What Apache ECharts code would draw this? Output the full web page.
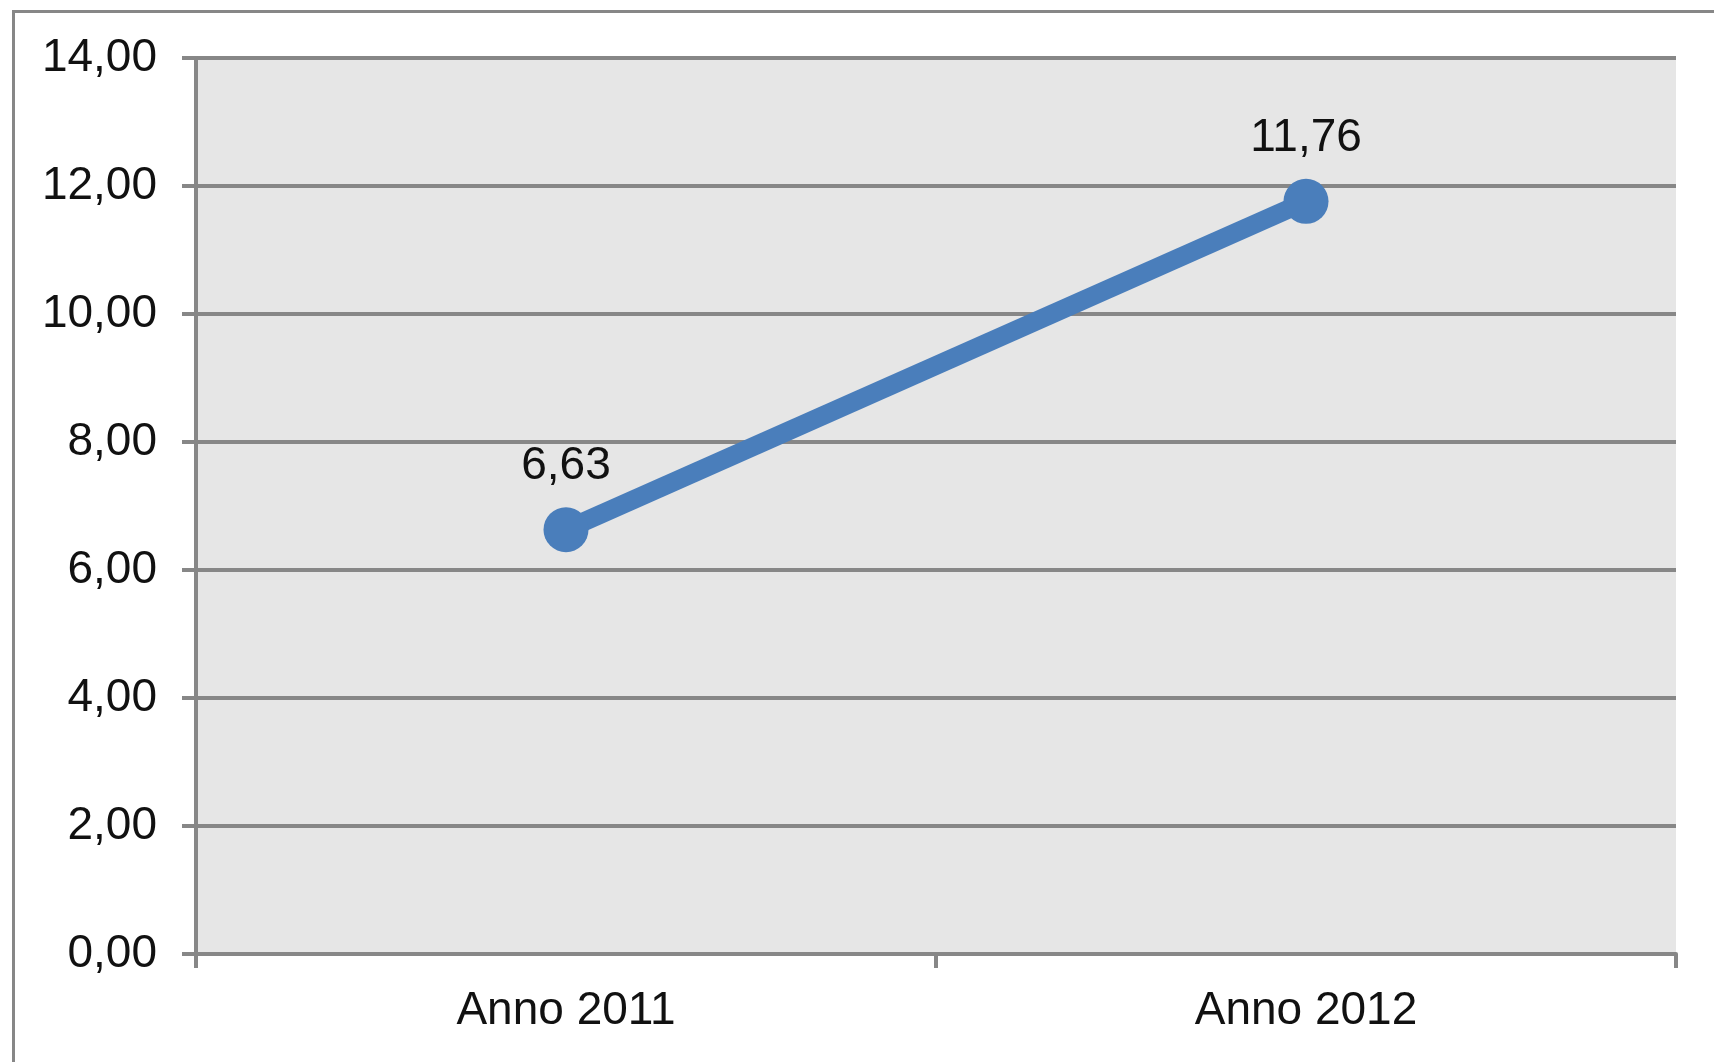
<!DOCTYPE html>
<html>
<head>
<meta charset="utf-8">
<script src="https://cdn.jsdelivr.net/npm/echarts@6/dist/echarts.min.js"></script>
<style>
  html, body { margin: 0; padding: 0; background: #fff; }
  #chart { width: 1714px; height: 1062px; }
</style>
</head>
<body>
<div id="chart"></div>
<script>
var categories = ['Anno 2011', 'Anno 2012'];
var values = [6.63, 11.76];
var yMin = 0, yMax = 14, yStep = 2;

var lineColor = '#878787';
var blue = '#4a7ebb';
var font = 'Liberation Sans, Arial, sans-serif';

function comma(v) {
    return v.toFixed(2).replace('.', ',');
}

var chart = echarts.init(document.getElementById('chart'));

var option = {
    animation: false,
    backgroundColor: '#ffffff',
    // cornice esterna (solo lato sinistro e superiore visibili)
    graphic: [{
        type: 'rect',
        left: 11,
        top: 9,
        shape: { width: 1800, height: 1200 },
        style: { fill: 'none', stroke: lineColor, lineWidth: 3 },
        silent: true
    }],
    grid: {
        left: 196,
        right: 38,
        top: 58,
        bottom: 108,
        show: true,
        backgroundColor: '#e6e6e6',
        borderWidth: 0
    },
    xAxis: {
        type: 'category',
        data: categories,
        boundaryGap: true,
        axisLine: { lineStyle: { color: lineColor, width: 4 } },
        axisTick: { show: true, length: 14, lineStyle: { color: lineColor, width: 4 } },
        axisLabel: {
            margin: 34,
            color: '#111',
            fontFamily: font,
            fontSize: 46
        }
    },
    yAxis: {
        type: 'value',
        min: yMin,
        max: yMax,
        interval: yStep,
        axisLine: { show: true, lineStyle: { color: lineColor, width: 4 } },
        axisTick: { show: true, length: 14, lineStyle: { color: lineColor, width: 4 } },
        splitLine: { show: true, lineStyle: { color: lineColor, width: 4 } },
        axisLabel: {
            margin: 39,
            color: '#111',
            fontFamily: font,
            fontSize: 46,
            formatter: comma
        }
    },
    series: [{
        type: 'line',
        data: values,
        symbol: 'circle',
        symbolSize: 45,
        lineStyle: { color: blue, width: 19 },
        itemStyle: { color: blue },
        label: {
            show: true,
            position: 'top',
            distance: 18,
            color: '#111',
            fontFamily: font,
            fontSize: 46,
            formatter: function (p) { return comma(p.value); }
        }
    }]
};

chart.setOption(option);
</script>
</body>
</html>
